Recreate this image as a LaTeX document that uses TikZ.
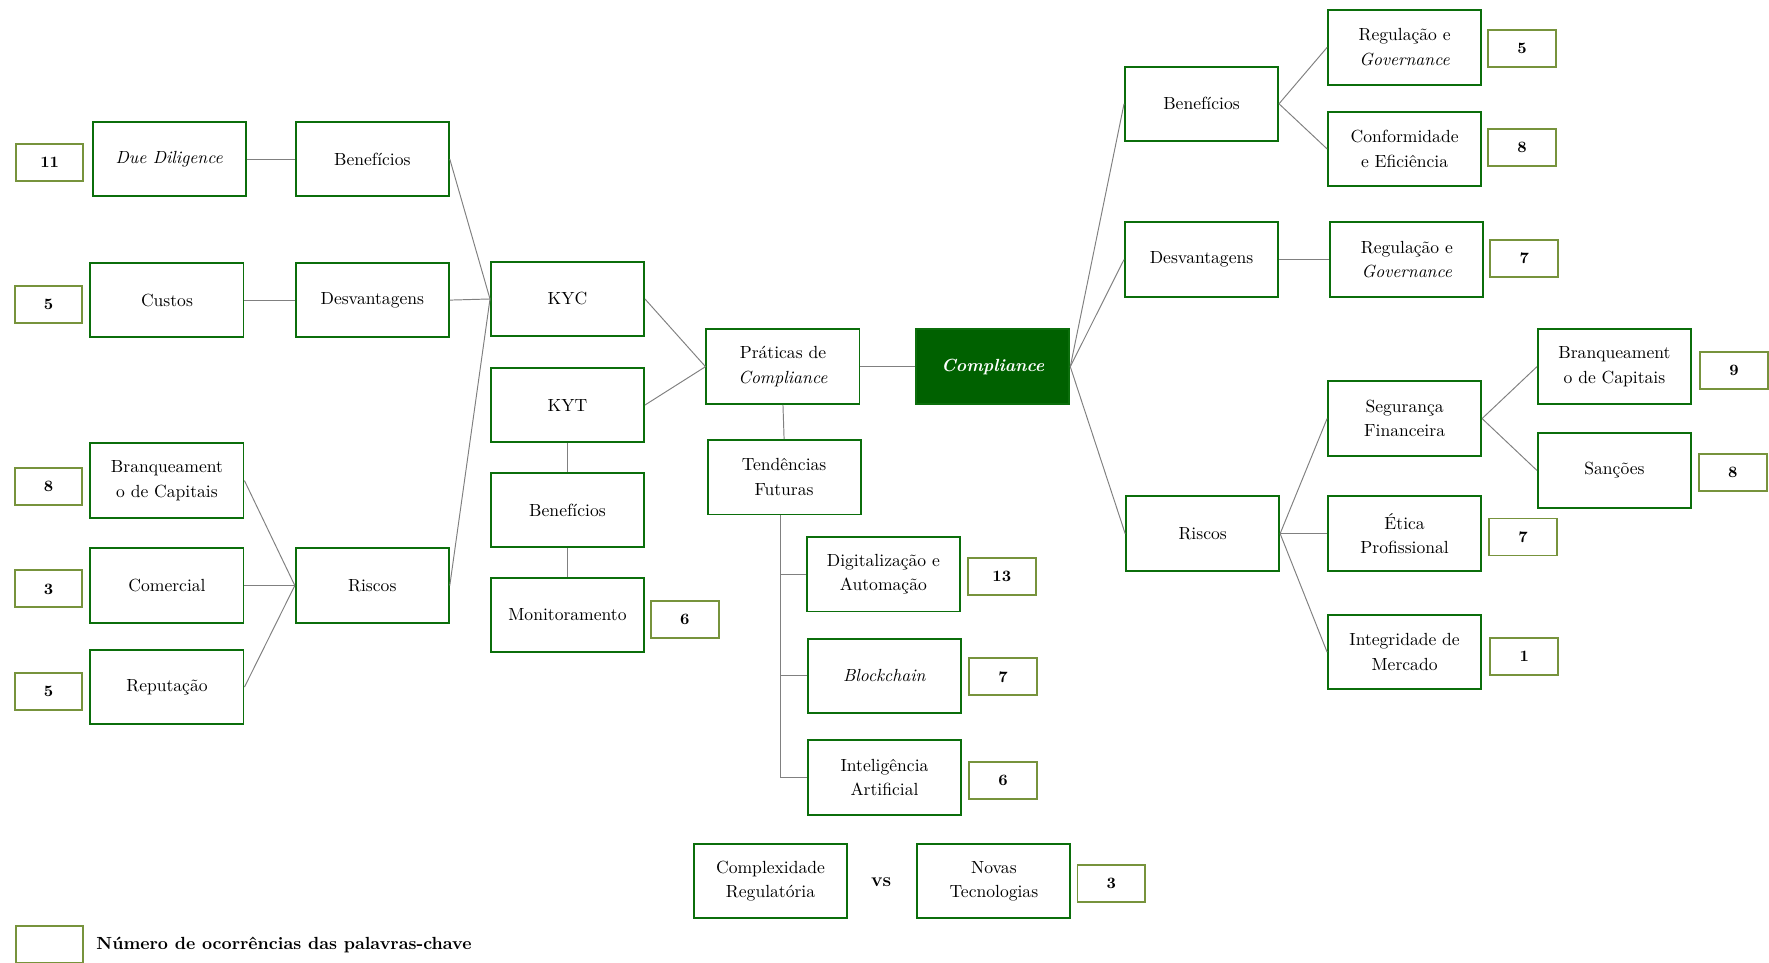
\documentclass[tikz,border=0pt]{standalone}
\usepackage{fontspec}
\usepackage{tikz}
\definecolor{boxgreen}{HTML}{0B6E0B}
\definecolor{rootgreen}{HTML}{006100}
\definecolor{countolive}{HTML}{77933C}
\definecolor{linkgray}{HTML}{808080}
\tikzset{
  topic/.style={draw=boxgreen, line width=1.1pt, fill=white,
                minimum width=30.6mm, minimum height=14.9mm, inner sep=1pt,
                align=center, font=\fontsize{10}{14}\selectfont},
  rootcell/.style={topic, fill=rootgreen, text=white,
                   font=\fontsize{10}{12}\selectfont\bfseries\itshape},
  countcell/.style={draw=countolive, line width=1.1pt, fill=white,
                    minimum width=13.5mm, minimum height=7.4mm, inner sep=0pt,
                    font=\fontsize{9}{10}\selectfont\bfseries},
  link/.style={draw=linkgray, line width=0.55pt},
}

\begin{document}
\begin{tikzpicture}[x=0.2256mm, y=-0.2256mm]
    \useasboundingbox (0,0) rectangle (1568,853);
    % left branch
    \node[topic] (dd) at (150,141) {\textit{Due Diligence}};
    \node[topic] (custos) at (148,266) {Custos};
    \node[topic] (branqL) at (148,426) {Branqueament\\o de Capitais};
    \node[topic] (comercial) at (148,519) {Comercial};
    \node[topic] (reput) at (148,609) {Reputação};
    \node[countcell] (nDd) at (44,144) {11};
    \node[countcell] (nCustos) at (43,270) {5};
    \node[countcell] (nBranqL) at (43,431) {8};
    \node[countcell] (nComercial) at (43,522) {3};
    \node[countcell] (nReput) at (43,613) {5};
    \node[topic] (benefL) at (330,141) {Benefícios};
    \node[topic] (desvL) at (330,266) {Desvantagens};
    \node[topic] (riscosL) at (330,519) {Riscos};
    \node[topic] (kyc) at (503,265) {KYC};
    \node[topic] (kyt) at (503,359) {KYT};
    \node[topic] (benefT) at (503,452) {Benefícios};
    \node[topic] (monit) at (503,545) {Monitoramento};
    \node[countcell] (nMonit) at (607,549) {6};
    % centre
    \node[topic] (prat) at (694,325) {Práticas de\\\textit{Compliance}};
    \node[rootcell] (comp) at (880,325) {Compliance};
    \node[topic] (tend) at (695,423) {Tendências\\Futuras};
    \node[topic] (digit) at (783,509) {Digitalização e\\Automação};
    \node[topic] (block) at (784,599) {\textit{Blockchain}};
    \node[topic] (ia) at (784,689) {Inteligência\\Artificial};
    \node[countcell] (nDigit) at (888,511) {13};
    \node[countcell] (nBlock) at (889,600) {7};
    \node[countcell] (nIa) at (889,692) {6};
    \node[topic] (complex) at (683,781) {Complexidade\\Regulatória};
    \node[font=\fontsize{11}{13}\selectfont\bfseries] (vs) at (781,782) {vs};
    \node[topic] (novas) at (881,781) {Novas\\Tecnologias};
    \node[countcell] (nNovas) at (985,783) {3};
    % right branch
    \node[topic] (benefR) at (1065,92) {Benefícios};
    \node[topic] (regGov) at (1245,42) {Regulação e\\\textit{Governance}};
    \node[topic] (conf) at (1245,132) {Conformidade\\e Eficiência};
    \node[countcell] (nRegGov) at (1349,43) {5};
    \node[countcell] (nConf) at (1349,131) {8};
    \node[topic] (desvR) at (1065,230) {Desvantagens};
    \node[topic] (regGovD) at (1247,230) {Regulação e\\\textit{Governance}};
    \node[countcell] (nRegGovD) at (1351,229) {7};
    \node[topic] (riscosR) at (1066,473) {Riscos};
    \node[topic] (seg) at (1245,371) {Segurança\\Financeira};
    \node[topic] (branqR) at (1431,325) {Branqueament\\o de Capitais};
    \node[topic] (sanc) at (1431,417) {Sanções};
    \node[countcell] (nBranqR) at (1537,328) {9};
    \node[countcell] (nSanc) at (1536,419) {8};
    \node[topic] (etica) at (1245,473) {Ética\\Profissional};
    \node[countcell] (nEtica) at (1350,476) {7};
    \node[topic] (integ) at (1245,578) {Integridade de\\Mercado};
    \node[countcell] (nInteg) at (1351,582) {1};
    % legend
    \node[countcell] (legBox) at (44,837) {};
    \node[anchor=west, font=\fontsize{10}{12}\selectfont\bfseries] (legText) at (80,838) {Número de ocorrências das palavras-chave};
    % connectors
    \draw[link] (dd.east) -- (benefL.west);
    \draw[link] (custos.east) -- (desvL.west);
    \draw[link] (branqL.east) -- (riscosL.west);
    \draw[link] (comercial.east) -- (riscosL.west);
    \draw[link] (reput.east) -- (riscosL.west);
    \draw[link] (benefL.east) -- (kyc.west);
    \draw[link] (desvL.east) -- (kyc.west);
    \draw[link] (riscosL.east) -- (kyc.west);
    \draw[link] (kyc.east) -- (prat.west);
    \draw[link] (kyt.east) -- (prat.west);
    \draw[link, line width=1pt] (kyt.south) -- (benefT.north);
    \draw[link, line width=1pt] (benefT.south) -- (monit.north);
    \draw[link] (prat.east) -- (comp.west);
    \draw[link] (prat.south) -- (tend.north);
    \coordinate (trunk) at ([xshift=-0.7mm]tend.south);
    \draw[link] (trunk) |- (ia.west);
    \draw[link] (digit.west) -- (digit.west -| trunk);
    \draw[link] (block.west) -- (block.west -| trunk);
    \draw[link] (comp.east) -- (benefR.west);
    \draw[link] (comp.east) -- (desvR.west);
    \draw[link] (comp.east) -- (riscosR.west);
    \draw[link] (benefR.east) -- (regGov.west);
    \draw[link] (benefR.east) -- (conf.west);
    \draw[link] (desvR.east) -- (regGovD.west);
    \draw[link] (riscosR.east) -- (seg.west);
    \draw[link] (riscosR.east) -- (etica.west);
    \draw[link] (riscosR.east) -- (integ.west);
    \draw[link] (seg.east) -- (branqR.west);
    \draw[link] (seg.east) -- (sanc.west);
  \end{tikzpicture}
\end{document}
